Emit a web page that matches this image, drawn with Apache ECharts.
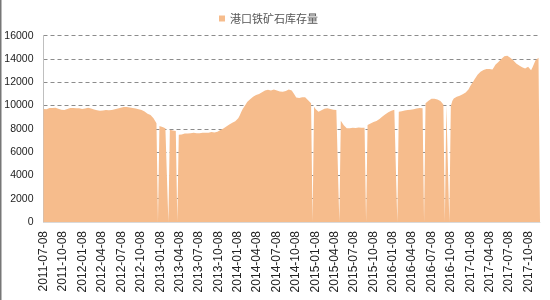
<!DOCTYPE html>
<html><head><meta charset="utf-8">
<script src="https://cdn.jsdelivr.net/npm/echarts@6/dist/echarts.min.js"></script>
<style>html,body{margin:0;padding:0;background:#fff}#c{width:550px;height:300px}</style>
</head><body><div id="c"></div>
<script>
var seriesName = '港口铁矿石库存量';
var startDate = '2011-07-08';
var endDate = '2017-12-01';
// weekly values starting 2011-07-08 (0 = missing holiday week)
var inventory = [
 9700, 9720, 9680, 9740, 9780, 9800, 9790, 9820, 9810, 9760,
 9720, 9680, 9650, 9620, 9610, 9660, 9700, 9760, 9800, 9810,
 9780, 9740, 9760, 9800, 9770, 9720, 9700, 9730, 9750, 9790,
 9810, 9790, 9740, 9700, 9660, 9620, 9600, 9580, 9560, 9550,
 9570, 9600, 9620, 9600, 9590, 9610, 9620, 9650, 9680, 9700,
 9740, 9780, 9820, 9860, 9880, 9890, 9880, 9850, 9830, 9810,
 9790, 9760, 9740, 9700, 9680, 9650, 9610, 9560, 9480, 9400,
 9300, 9230, 9180, 9050, 8900, 8700, 8480, 0, 8250, 8180,
 8150, 8100, 8060, 8040, 0, 7920, 7880, 7850, 7830, 7810,
 0, 7500, 7460, 7520, 7580, 7600, 7620, 7610, 7590, 7620,
 7640, 7660, 7650, 7630, 7610, 7620, 7640, 7660, 7680, 7670,
 7650, 7660, 7690, 7720, 7700, 7680, 7710, 7760, 7820, 7900,
 7980, 8040, 8100, 8200, 8300, 8380, 8470, 8520, 8580, 8650,
 8750, 8900, 9150, 9450, 9700, 9900, 10100, 10300, 10450, 10550,
 10700, 10750, 10820, 10900, 10950, 11000, 11080, 11150, 11250, 11300,
 11330, 11360, 11330, 11300, 11350, 11380, 11340, 11290, 11250, 11200,
 11220, 11180, 11180, 11250, 11320, 11380, 11400, 11300, 11100, 10900,
 10700, 10610, 10650, 10700, 10720, 10750, 10720, 10600, 10450, 10320,
 10200, 0, 9890, 9700, 9550, 9460, 9520, 9600, 9680, 9720,
 9750, 9760, 9730, 9700, 9680, 9650, 9630, 9610, 9580, 0,
 8700, 8500, 8300, 8150, 8060, 8040, 8050, 8080, 8100, 8090,
 8080, 8100, 8120, 8100, 8090, 8110, 8100, 0, 8320, 8400,
 8450, 8520, 8580, 8620, 8680, 8750, 8850, 8950, 9050, 9150,
 9250, 9350, 9420, 9500, 9560, 9610, 9640, 9620, 0, 9460,
 9480, 9520, 9560, 9580, 9600, 9620, 9640, 9650, 9670, 9690,
 9720, 9750, 9780, 9800, 9790, 9770, 0, 10200, 10320, 10420,
 10500, 10580, 10610, 10590, 10560, 10520, 10480, 10400, 10280, 10100,
 0, 10040, 10000, 0, 9950, 10400, 10610, 10700, 10760, 10820,
 10850, 10900, 10980, 11050, 11120, 11180, 11400, 11650, 11850, 12040,
 12250, 12450, 12650, 12800, 12900, 12980, 13050, 13100, 13150, 13190,
 13150, 13120, 13100, 13300, 13500, 13620, 13750, 13880, 14000, 14150,
 14240, 14300, 14280, 14200, 14100, 14000, 13900, 13780, 13620, 13550,
 13450, 13380, 13300, 13250, 13190, 13250, 13330, 13200, 13040, 13300,
 13600, 13900, 14000, 14100, 14180
];
var tickLabels = [
 '2011-07-08','2011-10-08','2012-01-08','2012-04-08','2012-07-08','2012-10-08',
 '2013-01-08','2013-04-08','2013-07-08','2013-10-08','2014-01-08','2014-04-08',
 '2014-07-08','2014-10-08','2015-01-08','2015-04-08','2015-07-08','2015-10-08',
 '2016-01-08','2016-04-08','2016-07-08','2016-10-08','2017-01-08','2017-04-08',
 '2017-07-08','2017-10-08'
];

function parseD(s){var p=s.split('-');return new Date(+p[0],+p[1]-1,+p[2]);}
function pad(n){return n<10?'0'+n:''+n;}
function fmt(d){return d.getFullYear()+'-'+pad(d.getMonth()+1)+'-'+pad(d.getDate());}
var s0 = parseD(startDate);
var data = inventory.map(function(v,i){
  var d = new Date(s0.getFullYear(), s0.getMonth(), s0.getDate()+7*i);
  return [d.getTime(), v];
});
var tickValues = tickLabels.map(function(s){return parseD(s).getTime();});

var chart = echarts.init(document.getElementById('c'));
chart.setOption({
  animation:false,
  backgroundColor:'#fff',
  graphic:[{type:'rect',left:0,top:0,shape:{width:1.5,height:300},style:{fill:'#777'}}],
  legend:{data:[seriesName],left:214,top:8,icon:'rect',itemWidth:6,itemHeight:6,itemGap:4,
    textStyle:{fontSize:11,color:'#555',fontFamily:'Noto Sans CJK SC'}},
  grid:{left:43.5,right:10,top:35.7,bottom:78,containLabel:false},
  xAxis:{type:'value',min:s0.getTime(),max:parseD(endDate).getTime(),
    axisLine:{show:true,lineStyle:{color:'#d9d9d9'}},
    axisTick:{show:false},
    splitLine:{show:false},
    axisLabel:{customValues:tickValues,rotate:90,margin:9,fontSize:12,color:'#222',
      fontFamily:'Liberation Sans, Arial',hideOverlap:false,showMinLabel:true,showMaxLabel:true,
      formatter:function(v){return fmt(new Date(v));}}
  },
  yAxis:{type:'value',min:0,max:16000,interval:2000,
    axisLine:{show:true,lineStyle:{color:'#bfbfbf'}},
    axisTick:{show:false},
    axisLabel:{fontSize:10.5,color:'#222',margin:10,fontFamily:'Liberation Sans, Arial',
      formatter:function(v){return String(v);}},
    splitLine:{show:true,lineStyle:{color:'#8c8c8c',type:[4,3],width:1}}
  },
  series:[{name:seriesName,type:'line',data:data,showSymbol:false,symbol:'none',
    lineStyle:{width:0,opacity:0},
    itemStyle:{color:'#F6BC8C'},
    areaStyle:{color:'#F6BC8C',opacity:1},z:1}]
});
</script></body></html>
